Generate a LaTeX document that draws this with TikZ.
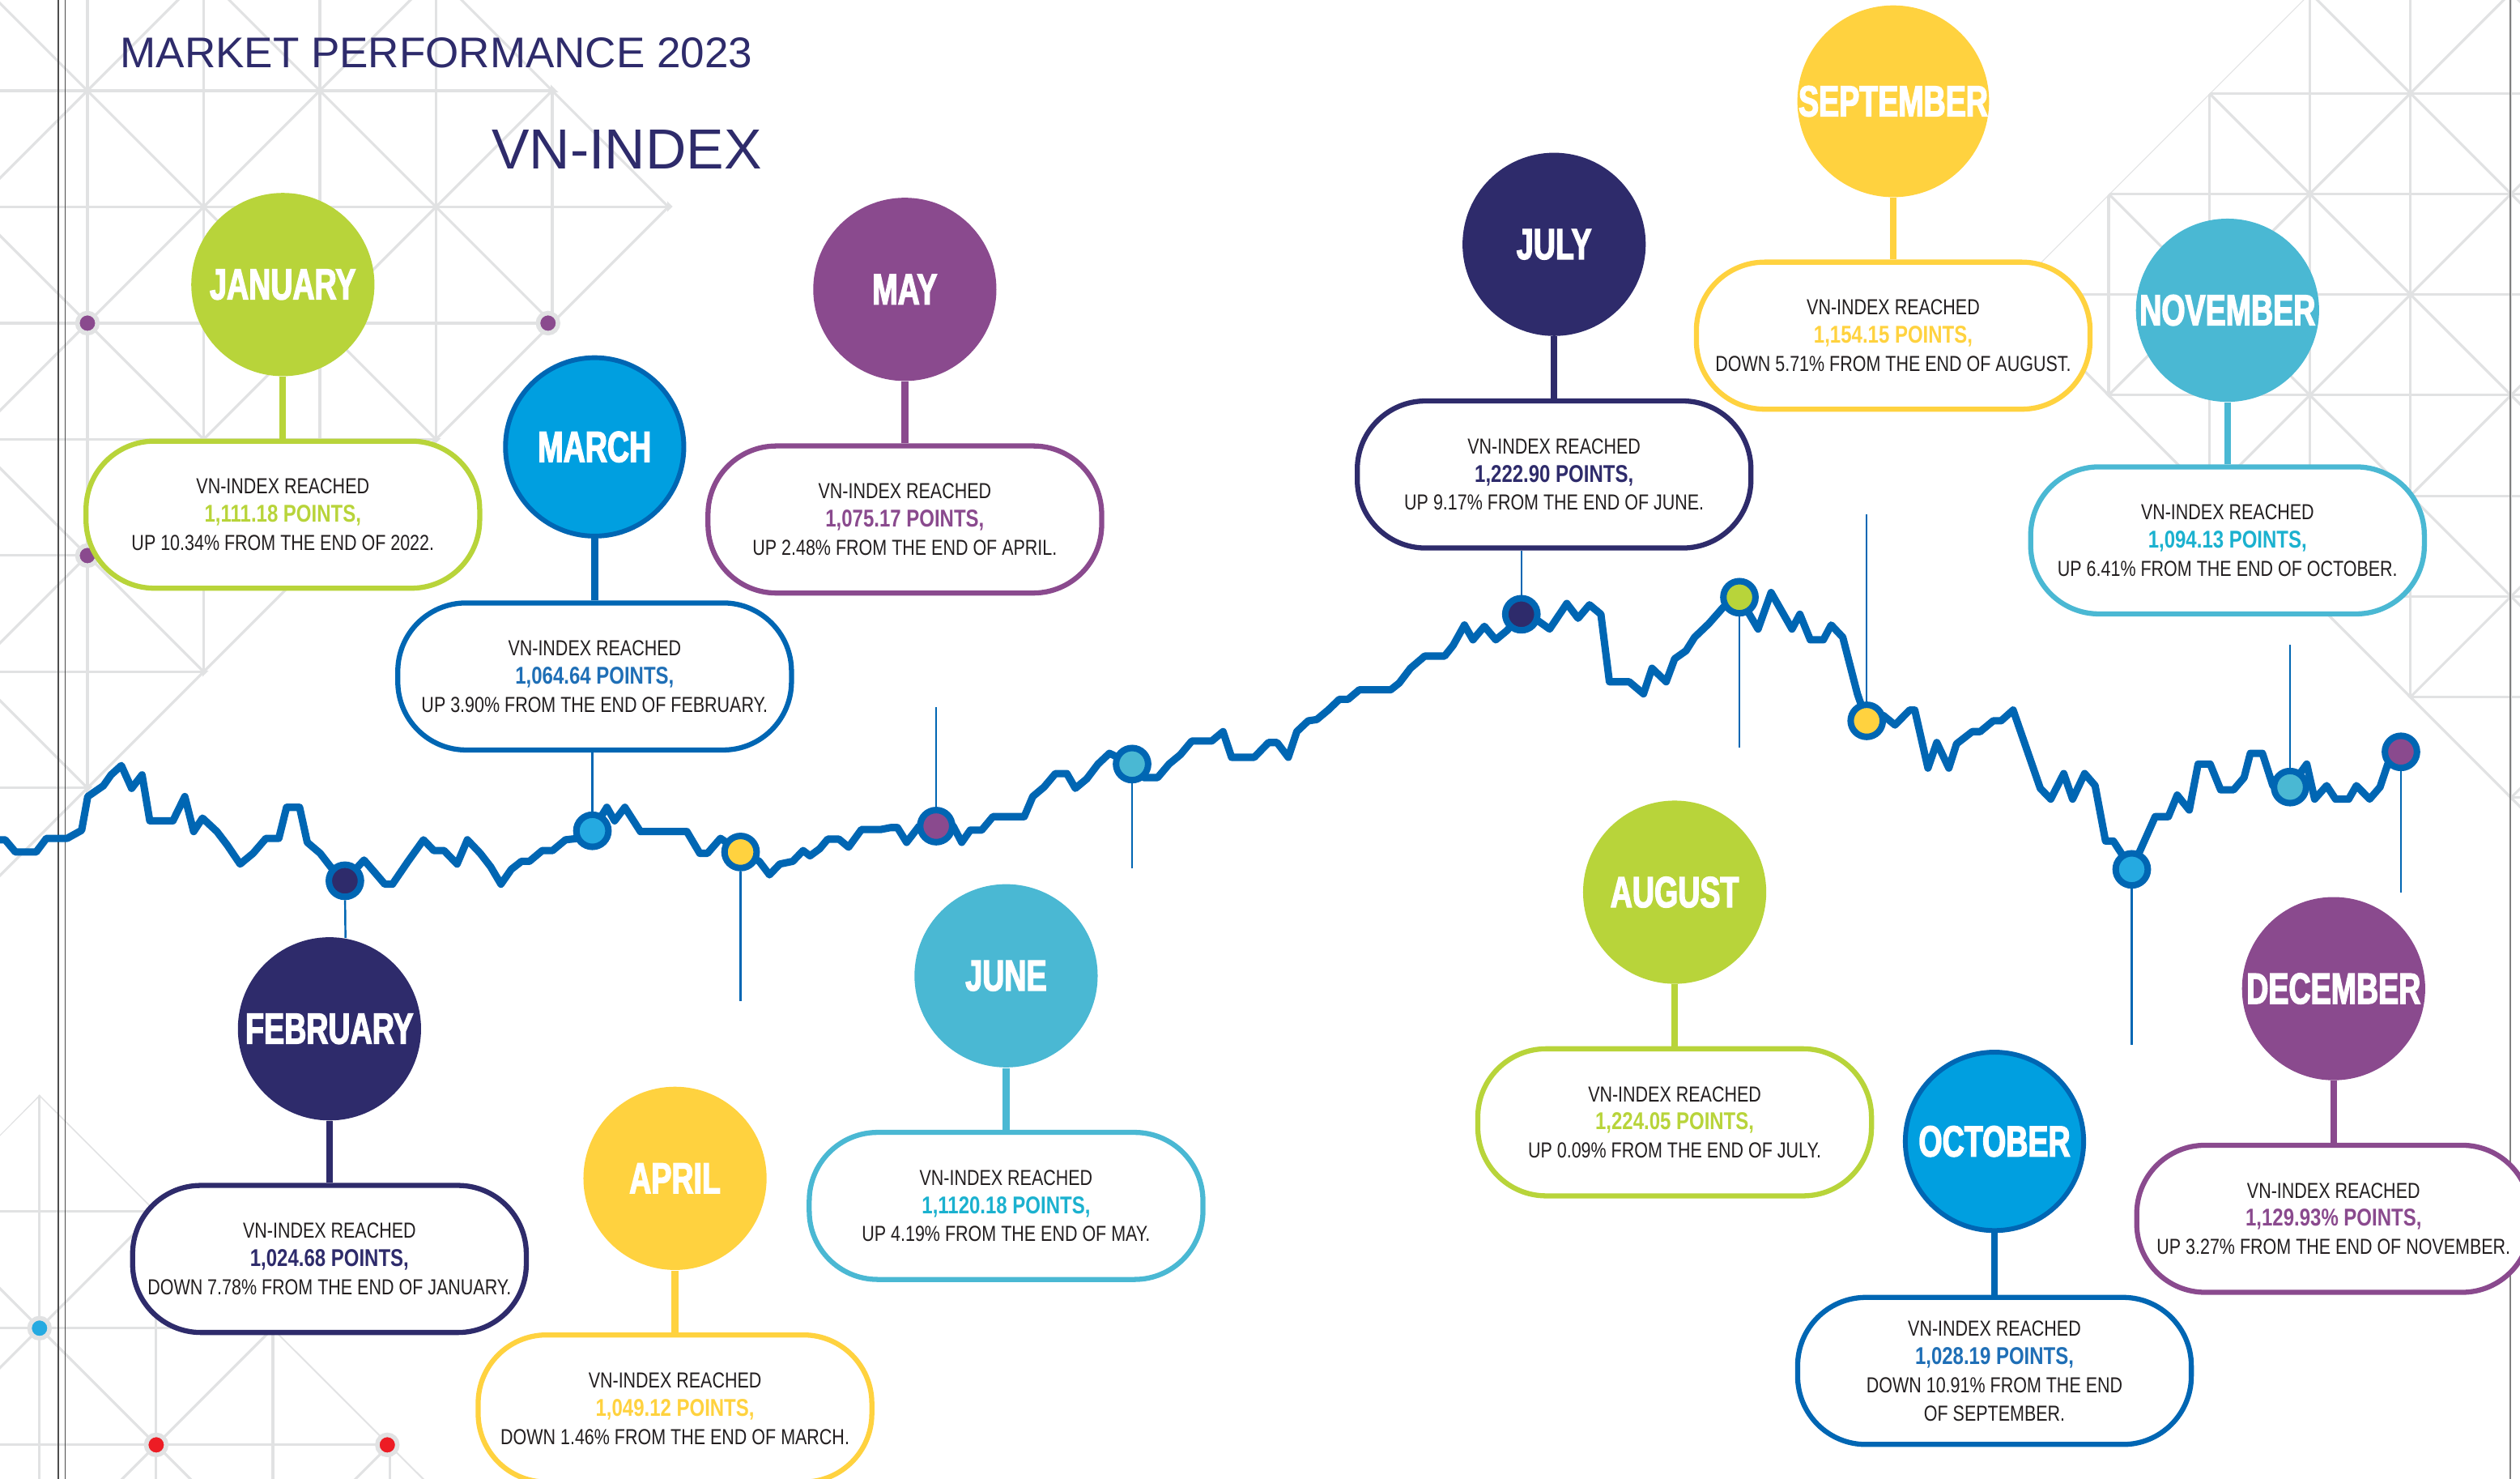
\documentclass[tikz,border=0pt]{standalone}
\usepackage{fontspec}
\setmainfont{Liberation Sans}
\newfontfamily\condfont[FakeStretch=0.8]{Liberation Sans}
\newfontfamily\condbold[FakeStretch=0.8]{Liberation Sans Bold}
\newfontfamily\monthfont[FakeStretch=0.7,FakeBold=2.5]{Liberation Sans Bold}
\usepackage{xcolor}
\usetikzlibrary{positioning}

\definecolor{vnnavy}{HTML}{2E2B6B}
\definecolor{vnlime}{HTML}{B8D43A}
\definecolor{vnyellow}{HTML}{FFD23F}
\definecolor{vnpurple}{HTML}{8A4A8E}
\definecolor{vnteal}{HTML}{4AB8D3}
\definecolor{vncyan}{HTML}{1BB1CF}
\definecolor{vnsky}{HTML}{009FE0}
\definecolor{vndot}{HTML}{25AAE1}
\definecolor{vnblue}{HTML}{0066B3}
\definecolor{vnpts}{HTML}{1F6FB6}
\definecolor{gridgray}{HTML}{E1E2E3}
\definecolor{textblack}{HTML}{231F20}
\definecolor{dotred}{HTML}{ED1C24}

% coloured points line inside a box
\newcommand{\pts}[2]{{\color{#1}\condbold\fontsize{8.6}{10}\selectfont #2}}

% triangle lattice: origin x, origin y, step
\newcommand{\trigrid}[3]{%
  \foreach \k in {-10,...,10} {
    \draw[gridline] ({#1+(\k)*#3},-50) -- ({#1+(\k)*#3},1000);
    \draw[gridline] (-50,{#2+(\k)*#3}) -- (1650,{#2+(\k)*#3});
    \draw[gridline] ({#1+2*(\k)*#3-1000},{#2-1000}) -- ({#1+2*(\k)*#3+1000},{#2+1000});
    \draw[gridline] ({#1+2*(\k)*#3+1000},{#2-1000}) -- ({#1+2*(\k)*#3-1000},{#2+1000});
  }}

\begin{document}
\begin{tikzpicture}[
    x=0.02cm, y=-0.02cm,
    monthdisc/.style={
        circle,
        minimum size=2.28cm,
        inner sep=0pt,
        text=white,
        font=\monthfont\fontsize{15.4}{16}\selectfont
    },
    infobox/.style={
        rectangle,
        rounded corners=0.85cm,
        fill=white,
        line width=1.8pt,
        minimum width=4.9cm,
        minimum height=1.83cm,
        inner sep=0pt,
        align=center,
        text=textblack,
        font=\condfont\fontsize{7.7}{10}\selectfont
    },
    stem/.style={line width=2.4pt},
    indexdot/.style={circle, draw=vnblue, line width=2.3pt, minimum size=0.4cm, inner sep=0pt},
    pinline/.style={draw=vnblue, line width=0.7pt},
    vnline/.style={draw=vnblue, line width=2.6pt, line join=round},
    gridline/.style={draw=gridgray, line width=0.9pt},
    griddot/.style={circle, draw=gridgray, line width=1.6pt, minimum size=0.25cm, inner sep=0pt},
    titletext/.style={text=vnnavy, inner sep=0pt}
]

\useasboundingbox (0,0) rectangle (1568,920);
\fill[white] (0,0) rectangle (1568,920);

% Background lattice
\begin{scope}
  \clip (0,0) -- (290,0) -- (418.5,128.5) -- (0,547) -- cycle;
  \trigrid{54.4}{56.4}{72.3}
\end{scope}
\begin{scope}
  \clip (0,706) -- (24.6,681) -- (264,920) -- (0,920) -- cycle;
  \trigrid{24.6}{681}{72.6}
\end{scope}
\begin{scope}
  \clip (1433,0) -- (1249,184) -- (1568,503) -- (1568,0) -- cycle;
  \trigrid{1374.6}{58}{62.6}
\end{scope}

\node[griddot, fill=vnpurple] (gd1) at (54.4,201) {};
\node[griddot, fill=vnpurple] (gd2) at (341,201) {};
\node[griddot, fill=vnpurple] (gd3) at (54.4,345.6) {};
\node[griddot, fill=vndot] (gd4) at (24.6,826.2) {};
\node[griddot, fill=dotred] (gd5) at (97.2,898.8) {};
\node[griddot, fill=dotred] (gd6) at (241,898.8) {};

% Page rules
\draw[black!70, line width=0.35pt] (36.3,0) -- (36.3,920);
\draw[black!70, line width=0.35pt] (40.7,0) -- (40.7,920);
\draw[black!50, line width=0.45pt] (1562,0) -- (1562,920);

% Titles
\node[titletext, font=\fontsize{15.2}{18}\selectfont] (perf) at (271.5,33) {MARKET PERFORMANCE 2023};
\node[titletext, font=\fontsize{20}{24}\selectfont] (vnindex) at (390,93) {VN-INDEX};

% Index line
\draw[vnline] (0,522.4) -- (3.2,522.4) -- (9.6,530) -- (22.5,530) -- (28.9,521.5) -- (41.8,521.5)
  -- (50.8,516.5) -- (54.6,495.5) -- (64.3,488.8) -- (69.1,482) -- (75.5,476.2) -- (81.9,490.4)
  -- (88.4,482) -- (93.2,510.6) -- (107.6,510.6) -- (115,495.5) -- (120.5,517.3) -- (126,508.9)
  -- (135,517.3) -- (141.4,525.7) -- (149.4,537.5) -- (157.5,530.8) -- (165.5,521.5) -- (173.5,521.5)
  -- (178.3,502.2) -- (186.4,502.2) -- (191.2,524) -- (199.2,530.8) -- (205.7,539.2) -- (214.6,547.9)
  -- (226.5,535) -- (233,542.5) -- (239.4,550) -- (244.2,550) -- (253.9,535.8) -- (263.5,522.4)
  -- (269.9,529.1) -- (276.3,529.1) -- (284.4,537.5) -- (290.8,522.4) -- (298.8,530.8) -- (305.3,539.2)
  -- (311.7,550) -- (318.1,540.8) -- (324.5,535.8) -- (329.4,535.8) -- (337.4,529.1) -- (343.8,529.1)
  -- (351.9,522.4) -- (359.9,521.5) -- (368.6,516.8) -- (377.6,502.2) -- (382.4,510.6) -- (388.8,502.2)
  -- (398.5,517.3) -- (427.4,517.3) -- (435.4,530.8) -- (440.2,530.8) -- (448.3,521.5) -- (460.8,530)
  -- (472.4,535.8) -- (478.8,544.2) -- (485.2,537.5) -- (493.3,535.8) -- (499.7,529.1) -- (504,532.4)
  -- (510,528) -- (515,522) -- (522,522) -- (528,527) -- (536,516) -- (548,516) -- (554.2,514.8)
  -- (558.4,514.8) -- (564.1,524) -- (571.9,513.9) -- (582.5,513.9) -- (593.1,513.9) -- (598.4,524)
  -- (603.7,516.4) -- (610.8,516.4) -- (617.8,508) -- (637.3,508) -- (642.6,495.5) -- (649.6,489.6)
  -- (656.7,481.2) -- (663.8,481.2) -- (669.1,490.4) -- (676.2,484.5) -- (683.2,475.3) -- (690.3,468.6)
  -- (704.4,475.3) -- (711.5,483.7) -- (720.3,483.7) -- (727.4,475.3) -- (734.5,469.4) -- (741.5,461)
  -- (753.9,461) -- (761,455.1) -- (766.3,471.1) -- (780.4,471.1) -- (789.3,461.9) -- (794.6,461.9)
  -- (801.6,471.1) -- (806.9,455.1) -- (814,448.4) -- (819.3,447.6) -- (826.4,441.7) -- (833.4,435)
  -- (838.8,435) -- (845.8,429.1) -- (865.3,429.1) -- (870.6,424.9) -- (877.6,415.7) -- (886.5,408.1)
  -- (898.9,408.1) -- (904.2,401.4) -- (911.2,388.8) -- (916.5,398) -- (923.6,389.6) -- (930.7,398)
  -- (937.7,392.2) -- (946.6,382.1) -- (957.2,386.3) -- (964.2,391.3) -- (974.9,375.4) -- (981.9,384.6)
  -- (989,376.2) -- (996.1,382.1) -- (1001.4,424.1) -- (1013.7,424.1) -- (1022.6,431.6) -- (1027.9,415.7)
  -- (1036.7,424.1) -- (1042,409.8) -- (1049.1,404.8) -- (1054.4,396.4) -- (1063.2,388) -- (1072.1,377.9)
  -- (1082.3,371.5) -- (1093.9,391.3) -- (1102,368.6) -- (1115,391.3) -- (1119.9,382.1) -- (1126.4,398)
  -- (1134.5,398) -- (1139.4,388.8) -- (1146.6,396.4) -- (1155.7,431.6) -- (1161.5,448.4) -- (1171.9,445.1)
  -- (1179.1,451) -- (1188.2,441.7) -- (1191.4,441.7) -- (1199.6,477.8) -- (1205.1,461.9) -- (1212.6,477.8)
  -- (1217.4,462.7) -- (1227.2,455.1) -- (1232.1,455.1) -- (1240.2,448.4) -- (1245.1,448.4) -- (1252.6,441.7)
  -- (1269.5,490.4) -- (1276,497.1) -- (1284.1,481.2) -- (1289.6,497.1) -- (1297.1,481.2) -- (1303.6,488.7)
  -- (1310.1,523.2) -- (1315,523.2) -- (1326.4,540.8) -- (1341,508) -- (1349.2,508) -- (1354.7,494.6)
  -- (1362.2,503.9) -- (1367.7,475.3) -- (1375.2,475.3) -- (1381.7,491.3) -- (1389.8,491.3) -- (1396.3,483.7)
  -- (1400.2,468.6) -- (1407.7,468.6) -- (1414.2,488.7) -- (1424.9,489.6) -- (1435.3,475.3) -- (1440.2,497.1)
  -- (1447.7,488.7) -- (1453.2,497.1) -- (1461.4,497.1) -- (1466.2,488.7) -- (1474.4,497.1) -- (1480.9,489.6)
  -- (1485.7,475.3) -- (1493.9,467.7);

% Month-end dots
\node[indexdot, fill=vnnavy] (mfeb) at (214.6,547.9) {};
\node[indexdot, fill=vndot] (mmar) at (368.6,516.8) {};
\node[indexdot, fill=vnyellow] (mapr) at (460.8,530) {};
\node[indexdot, fill=vnpurple] (mmay) at (582.5,513.9) {};
\node[indexdot, fill=vnteal] (mjun) at (704.4,475.3) {};
\node[indexdot, fill=vnnavy] (mjul) at (946.6,382.1) {};
\node[indexdot, fill=vnlime] (maug) at (1082.3,371.5) {};
\node[indexdot, fill=vnyellow] (msep) at (1161.5,448.4) {};
\node[indexdot, fill=vndot] (moct) at (1326.4,540.8) {};
\node[indexdot, fill=vnteal] (mnov) at (1424.9,489.6) {};
\node[indexdot, fill=vnpurple] (mdec) at (1493.9,467.7) {};

\coordinate (aprend) at (460.8,623);
\coordinate (mayend) at (582.5,440);
\coordinate (junend) at (704.4,540);
\coordinate (augend) at (1082.3,465);
\coordinate (sepend) at (1161.5,320);
\coordinate (octend) at (1326.4,650);
\coordinate (novend) at (1424.9,401);
\coordinate (decend) at (1493.9,555);

% Months
\node[monthdisc, fill=vnlime] (jan) at (176,177) {JANUARY};
\node[monthdisc, fill=vnnavy] (feb) at (205,640) {FEBRUARY};
\node[monthdisc, fill=vnsky, draw=vnblue, line width=1.7pt, minimum size=2.22cm] (mar) at (370,278) {MARCH};
\node[monthdisc, fill=vnyellow] (apr) at (420,733) {APRIL};
\node[monthdisc, fill=vnpurple] (may) at (563,180) {MAY};
\node[monthdisc, fill=vnteal] (jun) at (626,607) {JUNE};
\node[monthdisc, fill=vnnavy] (jul) at (967,152) {JULY};
\node[monthdisc, fill=vnlime] (aug) at (1042,555) {AUGUST};
\node[monthdisc, fill=vnyellow] (sep) at (1178,63) {SEPTEMBER};
\node[monthdisc, fill=vnsky, draw=vnblue, line width=1.7pt, minimum size=2.22cm] (oct) at (1241,710) {OCTOBER};
\node[monthdisc, fill=vnteal] (nov) at (1386,193) {NOVEMBER};
\node[monthdisc, fill=vnpurple] (dec) at (1452,615) {DECEMBER};

% Boxes
\node[infobox, draw=vnlime, below=0.77cm of jan] (janbox)
  {VN-INDEX REACHED\\\pts{vnlime}{1,111.18 POINTS,}\\UP 10.34\% FROM THE END OF 2022.};
\node[infobox, draw=vnnavy, below=0.77cm of feb] (febbox)
  {VN-INDEX REACHED\\\pts{vnnavy}{1,024.68 POINTS,}\\DOWN 7.78\% FROM THE END OF JANUARY.};
\node[infobox, draw=vnblue, below=0.77cm of mar] (marbox)
  {VN-INDEX REACHED\\\pts{vnpts}{1,064.64 POINTS,}\\UP 3.90\% FROM THE END OF FEBRUARY.};
\node[infobox, draw=vnyellow, below=0.77cm of apr] (aprbox)
  {VN-INDEX REACHED\\\pts{vnyellow}{1,049.12 POINTS,}\\DOWN 1.46\% FROM THE END OF MARCH.};
\node[infobox, draw=vnpurple, below=0.77cm of may] (maybox)
  {VN-INDEX REACHED\\\pts{vnpurple}{1,075.17 POINTS,}\\UP 2.48\% FROM THE END OF APRIL.};
\node[infobox, draw=vnteal, below=0.77cm of jun] (junbox)
  {VN-INDEX REACHED\\\pts{vncyan}{1,1120.18 POINTS,}\\UP 4.19\% FROM THE END OF MAY.};
\node[infobox, draw=vnnavy, below=0.77cm of jul] (julbox)
  {VN-INDEX REACHED\\\pts{vnnavy}{1,222.90 POINTS,}\\UP 9.17\% FROM THE END OF JUNE.};
\node[infobox, draw=vnlime, below=0.77cm of aug] (augbox)
  {VN-INDEX REACHED\\\pts{vnlime}{1,224.05 POINTS,}\\UP 0.09\% FROM THE END OF JULY.};
\node[infobox, draw=vnyellow, below=0.77cm of sep] (sepbox)
  {VN-INDEX REACHED\\\pts{vnyellow}{1,154.15 POINTS,}\\DOWN 5.71\% FROM THE END OF AUGUST.};
\node[infobox, draw=vnblue, below=0.77cm of oct] (octbox)
  {VN-INDEX REACHED\\\pts{vnpts}{1,028.19 POINTS,}\\DOWN 10.91\% FROM THE END\\OF SEPTEMBER.};
\node[infobox, draw=vnteal, below=0.77cm of nov] (novbox)
  {VN-INDEX REACHED\\\pts{vncyan}{1,094.13 POINTS,}\\UP 6.41\% FROM THE END OF OCTOBER.};
\node[infobox, draw=vnpurple, below=0.77cm of dec] (decbox)
  {VN-INDEX REACHED\\\pts{vnpurple}{1,129.93\% POINTS,}\\UP 3.27\% FROM THE END OF NOVEMBER.};

% Stems
\draw[stem, vnlime] (jan) -- (janbox);
\draw[stem, vnnavy] (feb) -- (febbox);
\draw[stem, vnblue] (mar) -- (marbox);
\draw[stem, vnyellow] (apr) -- (aprbox);
\draw[stem, vnpurple] (may) -- (maybox);
\draw[stem, vnteal] (jun) -- (junbox);
\draw[stem, vnnavy] (jul) -- (julbox);
\draw[stem, vnlime] (aug) -- (augbox);
\draw[stem, vnyellow] (sep) -- (sepbox);
\draw[stem, vnblue] (oct) -- (octbox);
\draw[stem, vnteal] (nov) -- (novbox);
\draw[stem, vnpurple] (dec) -- (decbox);

% Pins
\draw[pinline] (mfeb) -- (feb.80);
\draw[pinline] (mmar) -- (mmar |- marbox.south);
\draw[pinline] (mapr) -- (aprend);
\draw[pinline] (mmay) -- (mayend);
\draw[pinline] (mjun) -- (junend);
\draw[pinline] (mjul) -- (mjul |- julbox.south);
\draw[pinline] (maug) -- (augend);
\draw[pinline] (msep) -- (sepend);
\draw[pinline] (moct) -- (octend);
\draw[pinline] (mnov) -- (novend);
\draw[pinline] (mdec) -- (decend);

\end{tikzpicture}
\end{document}
